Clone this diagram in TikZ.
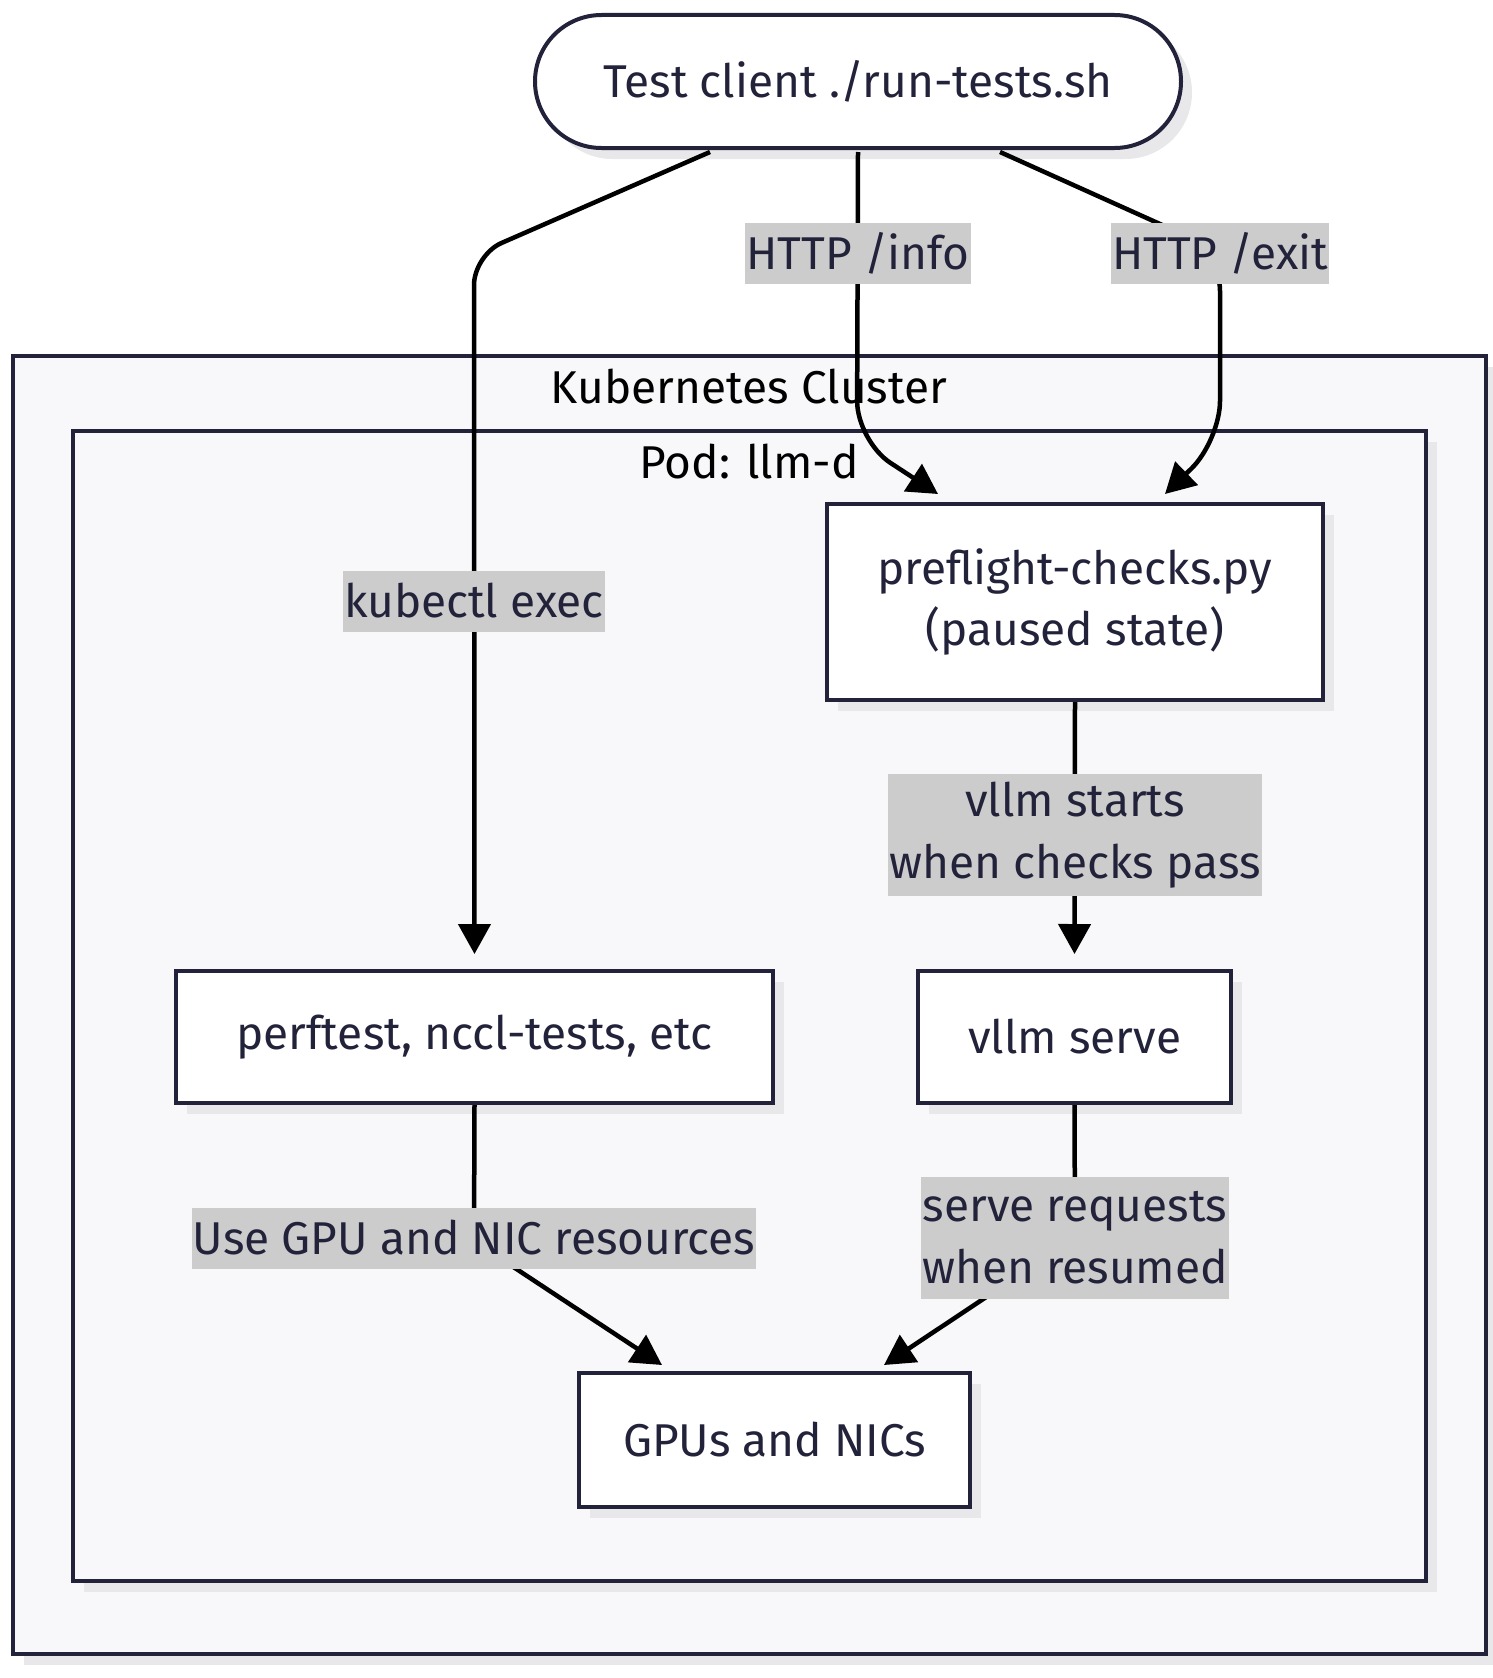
\documentclass[tikz,border=0pt]{standalone}
\usepackage{fontspec}
\setmainfont{Fira Sans}
\usetikzlibrary{arrows.meta,shapes.misc,shadows,calc}
\definecolor{ink}{HTML}{22223A}
\definecolor{clfill}{HTML}{F8F8FA}
\definecolor{shadowc}{HTML}{E8E8EB}
\definecolor{lblbg}{HTML}{CCCCCC}
\tikzset{
  shad/.style={drop shadow={shadow xshift=11pt,shadow yshift=-11pt,fill=shadowc,opacity=1}},
  proc/.style={draw=ink,line width=4pt,fill=white,shad,text=ink,align=center,inner sep=0pt,font=\fontsize{46}{61}\selectfont},
  clusterbox/.style={draw=ink,line width=4pt,fill=clfill,shad,inner sep=0pt},
  clabel/.style={text=black,font=\fontsize{46}{61}\selectfont,inner sep=0pt},
  elabel/.style={fill=lblbg,text=ink,align=center,inner xsep=1pt,inner ysep=0pt,minimum height=61pt,font=\fontsize{46}{62}\selectfont},
  elabeltwo/.style={elabel,minimum height=122pt},
  edge/.style={draw=black,line width=4.5pt,-{Triangle[length=30pt,width=32pt]}},
}
\begin{document}
\begin{tikzpicture}[x=1pt,y=-1pt]
\useasboundingbox (0,0) rectangle (1492,1678);
% clusters
\node[clusterbox,minimum width=1473pt,minimum height=1298pt] (k8s) at (749.5,1005) {};
\node[clusterbox,minimum width=1353pt,minimum height=1150pt] (pod) at (749.5,1006) {};
\node[clabel] (k8slbl) at (749,387) {Kubernetes Cluster};
\node[clabel] (podlbl) at (749,462) {Pod: llm-d};
% nodes
\node[proc,rounded rectangle,minimum width=646pt,minimum height=133pt] (client) at (858,81.5) {Test client ./run-tests.sh};
\node[proc,minimum width=496pt,minimum height=196pt] (pre) at (1075,602) {preflight-checks.py\\(paused state)};
\node[proc,minimum width=597pt,minimum height=132pt] (perf) at (474.5,1037) {perftest, nccl-tests, etc};
\node[proc,minimum width=313pt,minimum height=132pt] (vllm) at (1074.5,1037) {vllm serve};
\node[proc,minimum width=391pt,minimum height=134pt] (gpu) at (774.5,1440) {GPUs and NICs};
% edges
\draw[edge,rounded corners=30pt] ($(client.south)+(-148,2)$) -- (474,255) -- ($(perf.north)+(0,-15)$);
\draw[edge,rounded corners=40pt] ($(client.south)+(0,2)$) -- (857,441) -- ($(pre.north west)+(113,-8)$);
\draw[edge,rounded corners=40pt] ($(client.south)+(142,2)$) -- (1220,251) -- (1220,441) -- ($(pre.north west)+(340,-8)$);
\draw[edge] (pre.south) -- ($(vllm.north)+(0,-15)$);
\draw[edge] (perf.south) -- (474,1241) -- ($(gpu.north west)+(85,-6)$);
\draw[edge] (vllm.south) -- (1075,1238) -- ($(gpu.north west)+(307,-6)$);
% edge labels
\node[elabel] (l1) at (474,601) {kubectl exec};
\node[elabel] (l2) at (858,253) {HTTP /info};
\node[elabel] (l3) at (1220,253) {HTTP /exit};
\node[elabeltwo] (l4) at (1075,835) {vllm starts\\when checks pass};
\node[elabel] (l5) at (474,1238) {Use GPU and NIC resources};
\node[elabeltwo] (l6) at (1075,1238) {serve requests\\when resumed};
\end{tikzpicture}
\end{document}
